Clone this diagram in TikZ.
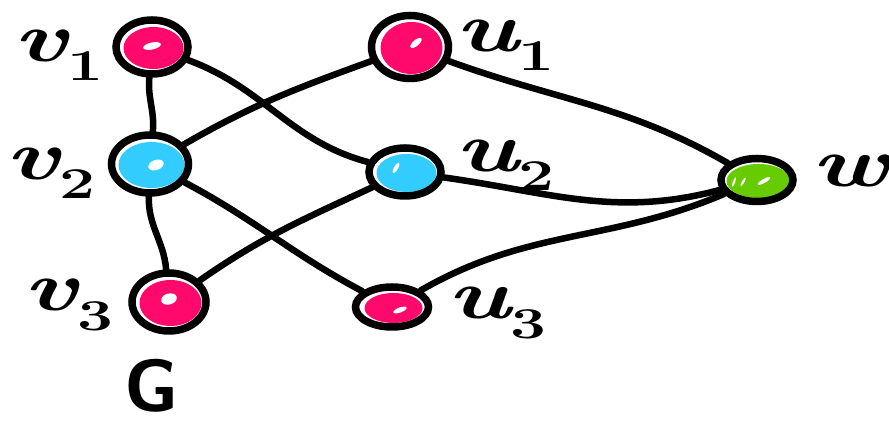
\documentclass[tikz,border=0pt]{standalone}
\usepackage{fontspec}
\usepackage{graphicx}
\usetikzlibrary{shapes.geometric}
\definecolor{rosa}{HTML}{FF0A6C}
\definecolor{cielo}{HTML}{33CCFF}
\definecolor{lima}{HTML}{66CC00}
\pgfdeclarelayer{edges}
\pgfsetlayers{edges,main}
\tikzset{
  vertex/.style={ellipse, draw=black, line width=7.5pt, fill=white, inner sep=0pt},
  blob/.style n args={3}{path picture={
      \fill[#1] ([shift={(1.5pt,-1pt)}]path picture bounding box.center)
        ellipse (#2 and #3);}},
  link/.style={draw=black, line width=6.5pt, line cap=round, line join=round},
  gleam/.style={fill=white},
  lab/.style={inner sep=0pt, font=\fontsize{70}{76}\selectfont\bfseries},
}
% italic letter with a lowered upright index
\newcommand{\handlab}[2]{\scalebox{1.45}[1]{\itshape #1\raisebox{-0.28em}{\fontsize{44}{48}\selectfont\upshape #2}}}
\begin{document}
\begin{tikzpicture}[x=1pt,y=1pt]
  \useasboundingbox (0,0) rectangle (889,427);

  % vertices of G
  \node[vertex, minimum width=72pt, minimum height=54pt, blob={rosa}{30pt}{21pt}] (v1) at (152,380) {};
  \node[vertex, minimum width=77pt, minimum height=58pt, blob={cielo}{33pt}{23pt}] (v2) at (150,263) {};
  \node[vertex, minimum width=74pt, minimum height=58pt, blob={rosa}{31pt}{23pt}] (v3) at (169,125) {};
  % second column
  \node[vertex, minimum width=77pt, minimum height=63pt, blob={rosa}{31pt}{26pt}] (u1) at (410,380) {};
  \node[vertex, minimum width=72pt, minimum height=48pt, blob={cielo}{30pt}{19pt}] (u2) at (405,255) {};
  \node[vertex, minimum width=73pt, minimum height=40pt, blob={rosa}{29pt}{15pt}] (u3) at (392,120) {};
  % apex vertex
  \node[vertex, minimum width=72pt, minimum height=43pt, blob={lima}{32pt}{17pt}] (w) at (757,247) {};

  % glints on the vertices
  \fill[gleam, rotate around={12:(152,381)}] (152,381) ellipse (9pt and 3.5pt);
  \fill[gleam, rotate around={20:(156,262)}] (156,262) ellipse (8pt and 5pt);
  \fill[gleam, rotate around={15:(169,128)}] (169,128) ellipse (8pt and 5.5pt);
  \fill[gleam, rotate around={40:(416,384)}] (416,384) ellipse (7pt and 3pt);
  \fill[gleam, rotate around={60:(396,259)}] (396,259) ellipse (6pt and 2pt);
  \fill[gleam, rotate around={20:(400,117)}] (400,117) ellipse (7pt and 2.5pt);
  \fill[gleam, rotate around={70:(734,245)}] (734,245) ellipse (5pt and 1.2pt);
  \fill[gleam, rotate around={60:(743,245)}] (743,245) ellipse (5pt and 1.2pt);
  \fill[gleam, rotate around={30:(764,246)}] (764,246) ellipse (7pt and 2pt);

  % edges, drawn beneath the vertices
  \begin{pgfonlayer}{edges}
    \draw[link] (v1) to[out=-95, in=85] (v2);
    \draw[link] (v2) to[out=-92, in=95] (v3);
    \draw[link] (v1) to[out=-20, in=165] (u2);
    \draw[link] (v2) to[out=30, in=200] (u1);
    \draw[link] (v2) to[out=-28, in=152] (u3);
    \draw[link] (v3) to[out=35, in=205] (u2);
    \draw[link] (u1) to[out=-20, in=150] (w);
    \draw[link] (u2) to[out=-8, in=195] (w);
    \draw[link] (u3) to[out=30, in=203] (w);
  \end{pgfonlayer}

  % labels
  \node[lab] (lv1) at (58,372) {\handlab{v}{1}};
  \node[lab] (lv2) at (50,254) {\handlab{v}{2}};
  \node[lab] (lv3) at (68,122) {\handlab{v}{3}};
  \node[lab] (lu1) at (505,382) {\handlab{u}{1}};
  \node[lab] (lu2) at (505,262) {\handlab{u}{2}};
  \node[lab] (lu3) at (497,114) {\handlab{u}{3}};
  \node[lab] (lw)  at (850,247) {\handlab{w}{}};
  \node[inner sep=0pt, font=\fontsize{74}{80}\selectfont\sffamily\bfseries] (lG) at (152,41) {G};
\end{tikzpicture}
\end{document}
